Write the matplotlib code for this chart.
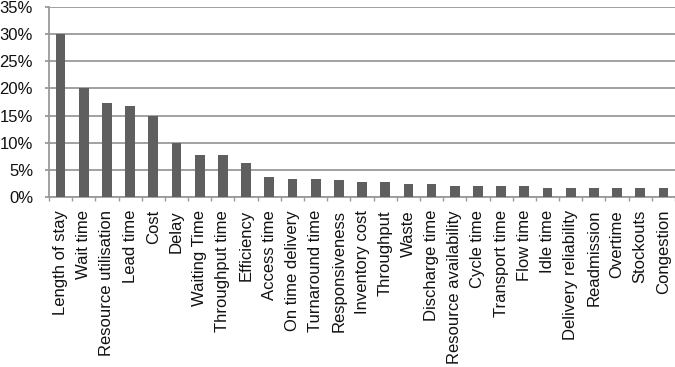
import matplotlib
matplotlib.use("Agg")
import matplotlib.pyplot as plt
import numpy as np
from matplotlib.ticker import FixedLocator, PercentFormatter

categories = ["Length of stay", "Wait time", "Resource utilisation", "Lead time", "Cost",
              "Delay", "Waiting Time", "Throughput time", "Efficiency", "Access time",
              "On time delivery", "Turnaround time", "Responsiveness", "Inventory cost",
              "Throughput", "Waste", "Discharge time", "Resource availability", "Cycle time",
              "Transport time", "Flow time", "Idle time", "Delivery reliability",
              "Readmission", "Overtime", "Stockouts", "Congestion"]
values = [30.0, 20.1, 17.4, 16.7, 15.0,
          9.9, 7.7, 7.7, 6.3, 3.8,
          3.4, 3.4, 3.2, 2.8,
          2.8, 2.5, 2.5, 2.1, 2.1,
          2.1, 2.1, 1.7, 1.7,
          1.7, 1.7, 1.7, 1.7]
yticks = [0, 5, 10, 15, 20, 25, 30, 35]

plt.rcParams['font.family'] = ['Liberation Sans', 'DejaVu Sans']

fig = plt.figure(figsize=(6.75, 3.67), dpi=100)
ax = fig.add_axes([0.0726, 0.462, 0.9274, 0.5197])

x = np.arange(len(categories))
ax.bar(x, values, width=0.42, color="#5f5f5f", zorder=3)

ax.set_xlim(-0.5, len(categories) - 0.5)
ax.set_ylim(0, 35)
ax.set_yticks(yticks)
ax.yaxis.set_major_formatter(PercentFormatter(decimals=0))
ax.yaxis.grid(True, color="#9a9a9a", linewidth=1.3, zorder=1)
ax.set_axisbelow(True)

ax.set_xticks(x)
ax.set_xticklabels(categories, rotation=90, fontsize=12, color="#111111")
ax.xaxis.set_minor_locator(FixedLocator(np.arange(-0.5, len(categories), 1.0)))
ax.tick_params(axis='x', which='major', length=0, pad=9)
ax.tick_params(axis='x', which='minor', length=3, width=1, color="#9a9a9a")
ax.tick_params(axis='y', length=3, width=1.3, color="#9a9a9a", pad=8.5, labelsize=12,
               labelcolor="#111111")

for s in ["top", "right"]:
    ax.spines[s].set_visible(False)
for s in ["left", "bottom"]:
    ax.spines[s].set_color("#9a9a9a")
    ax.spines[s].set_linewidth(1.3)

fig.savefig("out.png", dpi=100)
